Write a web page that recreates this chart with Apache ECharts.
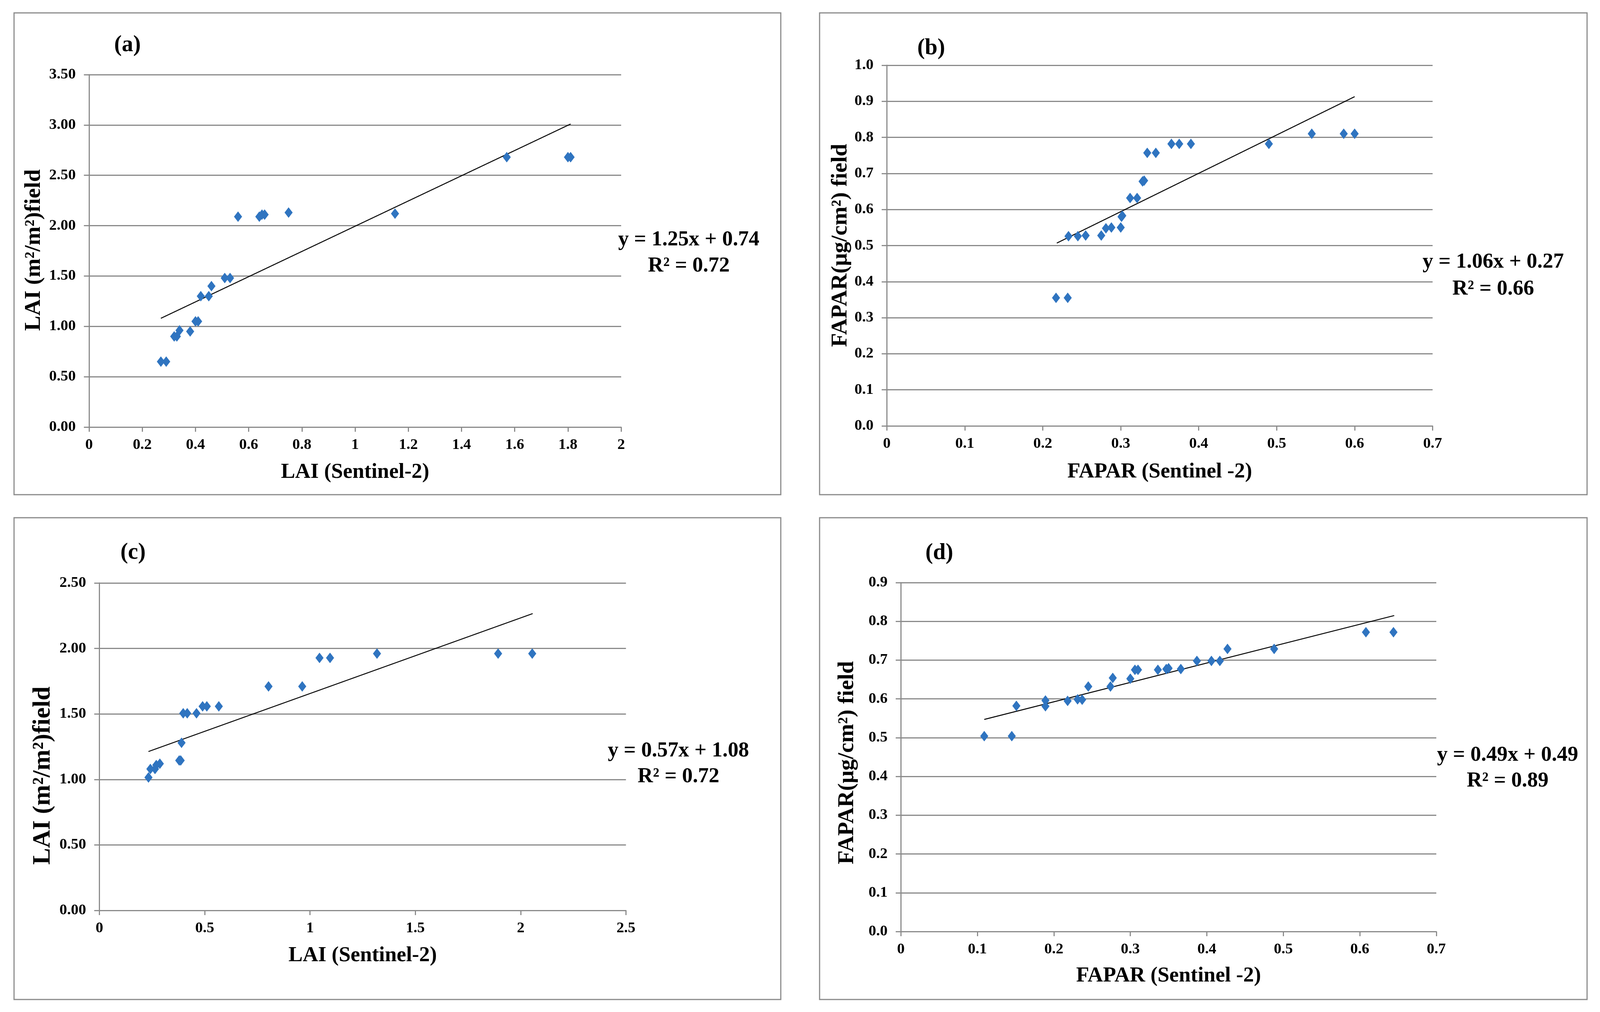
<!DOCTYPE html>
<html>
<head>
<meta charset="utf-8">
<script src="https://cdn.jsdelivr.net/npm/echarts@6/dist/echarts.min.js"></script>
<style>
html,body{margin:0;padding:0;background:#fff;overflow:hidden;}
#chart{width:100vw;height:100vh;}
</style>
</head>
<body>
<div id="chart"></div>
<script>
// ---- data ----
const panelLabels = ['(a)', '(b)', '(c)', '(d)'];
const xTitles = ['LAI (Sentinel-2)', 'FAPAR (Sentinel -2)', 'LAI (Sentinel-2)', 'FAPAR (Sentinel -2)'];
const yTitles = ['LAI (m²/m²)field', 'FAPAR(μg/cm²) field', 'LAI (m²/m²)field', 'FAPAR(μg/cm²) field'];
const eqLines = ['y = 1.25x + 0.74', 'y = 1.06x + 0.27', 'y = 0.57x + 1.08', 'y = 0.49x + 0.49'];
const r2Lines = ['R² = 0.72', 'R² = 0.66', 'R² = 0.72', 'R² = 0.89'];

const aX = [0.27,0.29,0.32,0.33,0.34,0.38,0.40,0.41,0.42,0.45,0.46,0.51,0.53,0.56,0.64,0.65,0.66,0.75,1.15,1.57,1.80,1.81];
const aY = [0.65,0.65,0.90,0.90,0.96,0.95,1.05,1.05,1.30,1.30,1.40,1.48,1.48,2.09,2.09,2.11,2.11,2.13,2.12,2.68,2.68,2.68];
const aTrend = [[0.27,1.08],[1.81,3.01]];

const bX = [0.217,0.232,0.233,0.245,0.255,0.275,0.281,0.288,0.300,0.301,0.302,0.312,0.321,0.328,0.330,0.334,0.345,0.365,0.375,0.390,0.490,0.545,0.586,0.600];
const bY = [0.355,0.355,0.526,0.526,0.528,0.528,0.548,0.550,0.550,0.580,0.583,0.632,0.632,0.678,0.680,0.757,0.757,0.782,0.782,0.782,0.782,0.810,0.810,0.810];
const bTrend = [[0.218,0.507],[0.600,0.913]];

const cX = [0.233,0.242,0.264,0.270,0.287,0.379,0.386,0.390,0.398,0.417,0.461,0.490,0.510,0.567,0.803,0.963,1.045,1.095,1.318,1.893,2.055];
const cY = [1.015,1.080,1.080,1.110,1.120,1.145,1.145,1.280,1.505,1.505,1.505,1.558,1.558,1.558,1.710,1.710,1.928,1.928,1.961,1.961,1.961];
const cTrend = [[0.233,1.213],[2.057,2.266]];

const dX = [0.109,0.145,0.151,0.189,0.189,0.218,0.231,0.237,0.245,0.274,0.277,0.300,0.306,0.310,0.336,0.347,0.350,0.366,0.387,0.406,0.417,0.427,0.488,0.608,0.644];
const dY = [0.504,0.504,0.582,0.596,0.581,0.595,0.599,0.598,0.632,0.632,0.654,0.652,0.675,0.675,0.675,0.677,0.679,0.677,0.698,0.698,0.698,0.729,0.729,0.772,0.772];
const dTrend = [[0.109,0.547],[0.645,0.815]];

// axis ranges
const xMins = [0, 0, 0, 0], xMaxs = [2, 0.7, 2.5, 0.7], xSteps = [0.2, 0.1, 0.5, 0.1];
const yMins = [0, 0, 0, 0], yMaxs = [3.5, 1.0, 2.5, 0.9], ySteps = [0.5, 0.1, 0.5, 0.1];
const yDecimals = [2, 1, 2, 1];

// ---- layout / style (designed on a 4330 x 2590 canvas, scaled to the viewport) ----
const el = document.getElementById('chart');
const W = el.clientWidth || window.innerWidth, H = el.clientHeight || window.innerHeight;
const sx = W / 4330, sy = H / 2590, sf = (sx + sy) / 2;
const X = v => v * sx, Y = v => v * sy, F = v => v * sf;

const FONT = "'Liberation Serif','Times New Roman',serif";
const GREY = '#8a8a8a';
const BLUE = '#2f74c0';
const grids = [
  {left: 241, top: 191, width: 1440, height: 902},
  {left: 2400, top: 167, width: 1477, height: 923},
  {left: 269, top: 1492, width: 1425, height: 838},
  {left: 2438, top: 1491, width: 1449, height: 893}
];
const frames = [[38,33,2075,1233],[2218,33,2077,1233],[38,1325,2075,1233],[2218,1325,2077,1233]];
const labelPos = [[345,116],[2520,124],[360,1415],[2542,1416]];
const eqPos = [[1864,614,681],[4041,671,740],[1836,1922,1988],[4080,1933,1999]];
const yTitlePos = [[92,640,58],[2275,628,58],[117,1985,64],[2293,1952,58]];
const xNameGap = [89, 91, 89, 87];

const scatterData = [aX.map((v,i)=>[v,aY[i]]), bX.map((v,i)=>[v,bY[i]]), cX.map((v,i)=>[v,cY[i]]), dX.map((v,i)=>[v,dY[i]])];
const trends = [aTrend, bTrend, cTrend, dTrend];

const xAxes = [], yAxes = [], series = [], graphic = [];
for (let i = 0; i < 4; i++) {
  xAxes.push({
    type: 'value', gridIndex: i, min: xMins[i], max: xMaxs[i], interval: xSteps[i],
    name: xTitles[i], nameLocation: 'middle', nameGap: Y(xNameGap[i]),
    nameTextStyle: {fontFamily: FONT, fontWeight: 'bold', fontSize: F(56), color: '#000'},
    axisLine: {show: true, lineStyle: {color: GREY, width: F(3)}},
    axisTick: {show: true, length: Y(12), lineStyle: {color: GREY, width: F(3)}},
    splitLine: {show: false},
    axisLabel: {fontFamily: FONT, fontWeight: 'bold', fontSize: F(40), color: '#000', margin: Y(26)}
  });
  const dec = yDecimals[i];
  yAxes.push({
    type: 'value', gridIndex: i, min: yMins[i], max: yMaxs[i], interval: ySteps[i],
    axisLine: {show: true, lineStyle: {color: GREY, width: F(3)}},
    axisTick: {show: true, length: X(14), lineStyle: {color: GREY, width: F(3)}},
    splitLine: {show: true, lineStyle: {color: GREY, width: F(3)}},
    axisLabel: {fontFamily: FONT, fontWeight: 'bold', fontSize: F(40), color: '#000', margin: X(36),
      formatter: v => v.toFixed(dec)}
  });
  series.push({
    type: 'line', xAxisIndex: i, yAxisIndex: i, data: trends[i], symbol: 'none',
    lineStyle: {color: '#000', width: F(2.5)}, silent: true, z: 2
  });
  series.push({
    type: 'scatter', xAxisIndex: i, yAxisIndex: i, data: scatterData[i],
    symbol: 'diamond', symbolSize: [X(22), Y(27)], itemStyle: {color: BLUE, opacity: 1}, z: 3
  });
  const f = frames[i];
  graphic.push({type: 'rect', shape: {x: X(f[0]), y: Y(f[1]), width: X(f[2]), height: Y(f[3])},
    style: {fill: 'none', stroke: GREY, lineWidth: F(3)}, silent: true});
  graphic.push({type: 'text', x: X(labelPos[i][0]), y: Y(labelPos[i][1]),
    style: {text: panelLabels[i], fontFamily: FONT, fontWeight: 'bold', fontSize: F(60), fill: '#000', align: 'center', verticalAlign: 'middle'}});
  graphic.push({type: 'text', x: X(eqPos[i][0]), y: Y(eqPos[i][1]),
    style: {text: eqLines[i], fontFamily: FONT, fontWeight: 'bold', fontSize: F(56), fill: '#000', align: 'center', verticalAlign: 'middle'}});
  graphic.push({type: 'text', x: X(eqPos[i][0]), y: Y(eqPos[i][2]),
    style: {text: r2Lines[i], fontFamily: FONT, fontWeight: 'bold', fontSize: F(56), fill: '#000', align: 'center', verticalAlign: 'middle'}});
  graphic.push({type: 'text', x: X(yTitlePos[i][0]), y: Y(yTitlePos[i][1]), rotation: Math.PI / 2,
    style: {text: yTitles[i], fontFamily: FONT, fontWeight: 'bold', fontSize: Y(yTitlePos[i][2]), fill: '#000', align: 'center', verticalAlign: 'middle'}});
}

const chart = echarts.init(el, null, {renderer: 'canvas'});
chart.setOption({
  backgroundColor: '#fff',
  animation: false,
  grid: grids.map(g => ({left: X(g.left), top: Y(g.top), width: X(g.width), height: Y(g.height), containLabel: false})),
  xAxis: xAxes,
  yAxis: yAxes,
  series: series,
  graphic: graphic
});
</script>
</body>
</html>
